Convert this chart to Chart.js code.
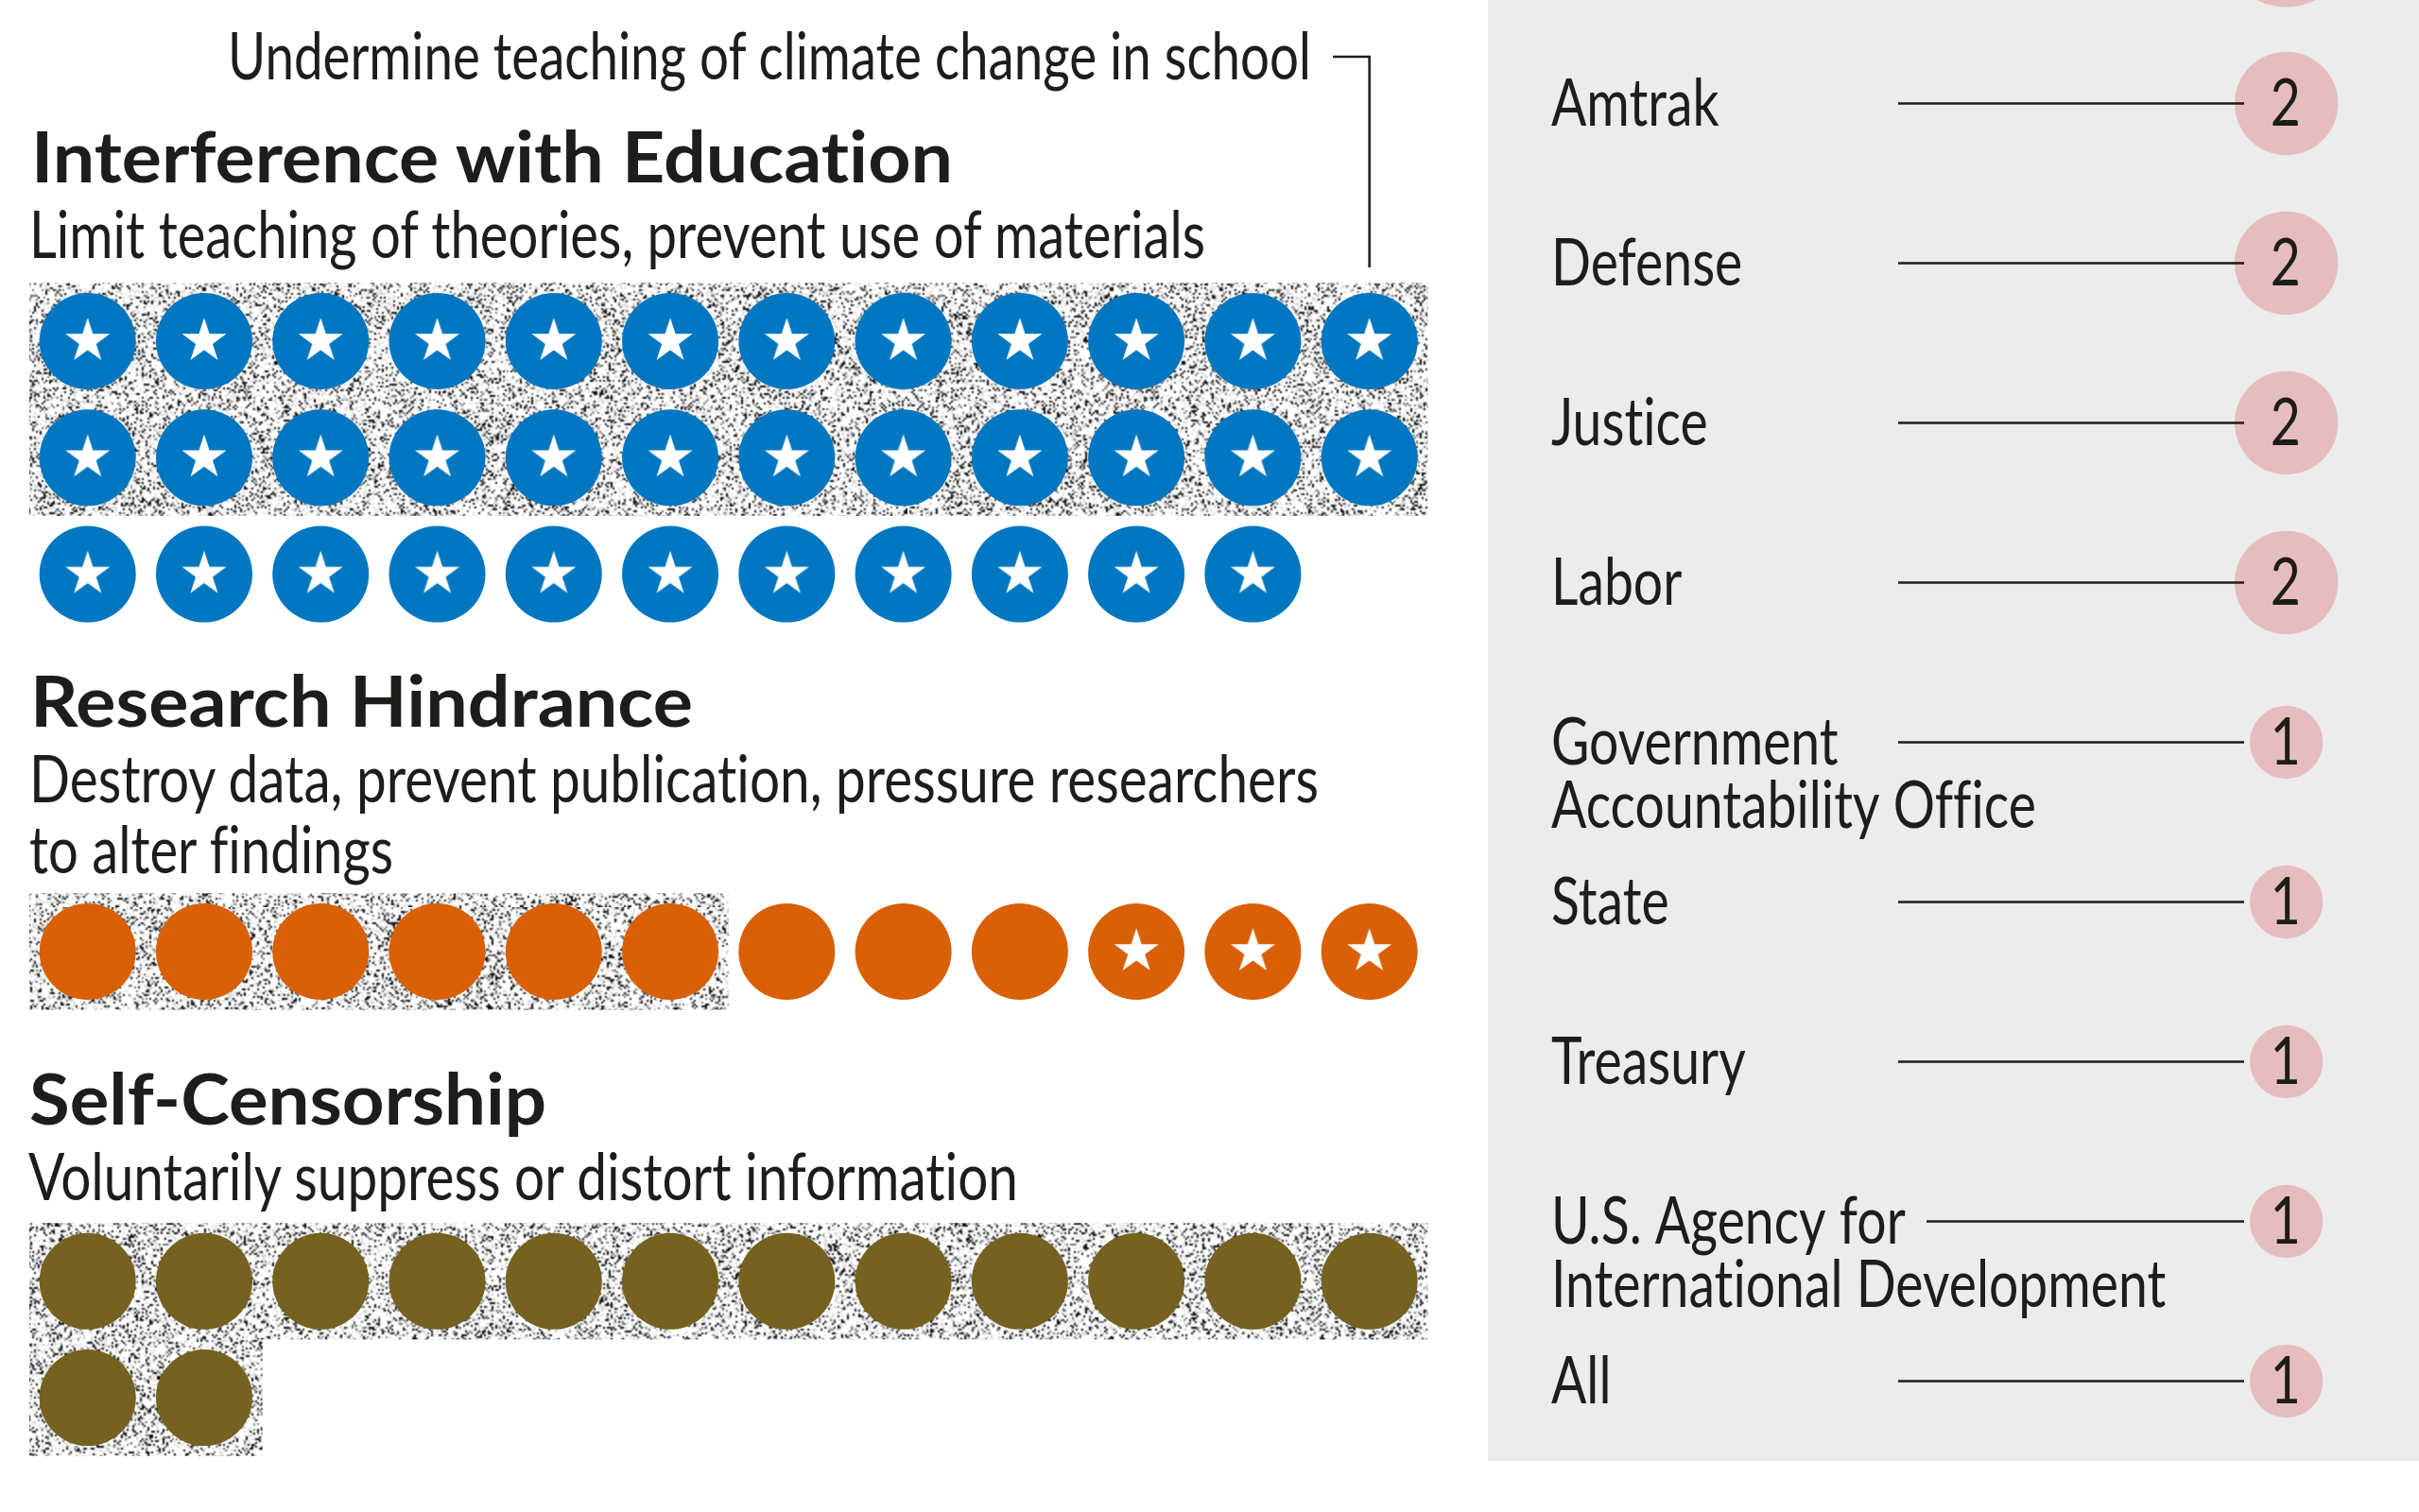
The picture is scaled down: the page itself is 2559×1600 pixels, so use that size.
<!DOCTYPE html>
<html>
<head>
<meta charset="utf-8">
<title>Interference with science</title>
<script src="https://cdn.jsdelivr.net/npm/chart.js@4"></script>
<style>
    html, body { margin: 0; background: #fff; }
    #page { position: relative; width: 2559px; height: 1600px; overflow: hidden; background: #fff; }
    #dots { position: absolute; left: 0; top: 0; }
    #panel { position: absolute; left: 1574px; top: 0; width: 985px; height: 1546px; overflow: hidden; background: #ececec; }
    #agencies { position: absolute; left: 0; top: -144px; }
    .txt {
        position: absolute;
        left: 0;
        top: 0;
        margin: 0;
        line-height: 1;
        white-space: nowrap;
        color: #1d1d1b;
        font-family: Lato, sans-serif;
        font-variant-ligatures: none;
        transform-origin: 0 0;
    }
    .head { font-size: 74px; font-weight: 700; }
    .sub { font-size: 70px; font-weight: 400; }
</style>
</head>
<body>
<div id="page">
    <canvas id="dots" width="1574" height="1600"></canvas>
    <div id="panel"><canvas id="agencies" width="985" height="1690"></canvas></div>
</div>
<script>
const categories = ['Interference with Education', 'Research Hindrance', 'Self-Censorship'];
const descriptions = [
    ['Limit teaching of theories, prevent use of materials'],
    ['Destroy data, prevent publication, pressure researchers', 'to alter findings'],
    ['Voluntarily suppress or distort information'],
];
const calloutText = 'Undermine teaching of climate change in school';
const actionCounts = [35, 12, 14];
const speckledCounts = [24, 6, 14];
const starredCounts = [35, 3, 0];
const categoryColors = ['#0277c1', '#d96006', '#756120'];

// first entry is the row cropped off the top of the panel
const agencyLabels = [
    '',
    'Amtrak',
    'Defense',
    'Justice',
    'Labor',
    ['Government', 'Accountability Office'],
    'State',
    'Treasury',
    ['U.S. Agency for', 'International Development'],
    'All',
];
const agencyCounts = [3, 2, 2, 2, 2, 1, 1, 1, 1, 1];

// layout, in page pixels
const PER_ROW = 12;
const CELL = 123.27;
const FIRST_COL_X = 92.7;
const FIRST_ROW_Y = 361;
const GROUP_ROW = [0, 5.24, 8.07];
const DOT_RADIUS = 51;
const STAR_RADIUS = 24.7;
const CALLOUT_LEFT = 1410;
const CALLOUT_TOP = 60;
const CALLOUT_BOTTOM = 283;
const BUBBLE_X = 844.7;
const BUBBLE_UNIT = 38.7;
const LEADER_START = 434;
const LEADER_START_WRAPPED = 464;
const LEADER_END = 800;
const LABEL_X = 67;
const INK = '#1d1d1b';
const LABEL_FONT = '400 70px Lato, sans-serif';
const LABEL_SQUEEZE = 0.79;
const LABEL_LINE = 67;

// [text, left, baseline, width]
const textLayout = [
    [calloutText, 'sub', 241, 83, 1146],
    [categories[0], 'head', 33, 192, 975],
    [descriptions[0][0], 'sub', 31, 272, 1244],
    [categories[1], 'head', 32, 768, 701],
    [descriptions[1][0], 'sub', 31, 848, 1364],
    [descriptions[1][1], 'sub', 31, 923, 385],
    [categories[2], 'head', 31, 1189, 547],
    [descriptions[2][0], 'sub', 30, 1269, 1047],
];

function placeText() {
    const page = document.getElementById('page');
    textLayout.forEach(([text, kind, left, baseline, width]) => {
        const node = document.createElement('div');
        node.className = `txt ${kind}`;
        node.textContent = text;
        page.appendChild(node);
        const size = kind === 'head' ? 74 : 70;
        const squeeze = width / node.getBoundingClientRect().width;
        // Lato's baseline sits near 0.87 of a 1em line box
        node.style.transform = `translate(${left}px, ${baseline - size * 0.87}px) scaleX(${squeeze})`;
    });
}

function makeSpeckle() {
    const cells = document.createElement('canvas');
    cells.width = 480;
    cells.height = 480;
    const cellCtx = cells.getContext('2d');
    const image = cellCtx.createImageData(480, 480);
    let seed = 20240611;
    for (let i = 0; i < image.data.length; i += 4) {
        seed = (seed * 1664525 + 1013904223) % 4294967296;
        const r = seed / 4294967296;
        let shade = 255;
        if (r < 0.12) shade = 10;
        else if (r < 0.2) shade = 110;
        else if (r < 0.34) shade = 215;
        image.data[i] = shade;
        image.data[i + 1] = shade;
        image.data[i + 2] = shade;
        image.data[i + 3] = 255;
    }
    cellCtx.putImageData(image, 0, 0);

    const big = document.createElement('canvas');
    big.width = 960;
    big.height = 960;
    const bigCtx = big.getContext('2d');
    bigCtx.imageSmoothingEnabled = true;
    bigCtx.drawImage(cells, 0, 0, 960, 960);
    return big;
}

function makeStar() {
    const size = Math.ceil(STAR_RADIUS * 2) + 4;
    const star = document.createElement('canvas');
    star.width = size;
    star.height = size;
    const ctx = star.getContext('2d');
    ctx.fillStyle = '#fff';
    ctx.beginPath();
    for (let i = 0; i < 10; i += 1) {
        const r = i % 2 ? STAR_RADIUS * 0.382 : STAR_RADIUS;
        const a = -Math.PI / 2 + i * Math.PI / 5;
        ctx.lineTo(size / 2 + r * Math.cos(a), size / 2 + r * Math.sin(a));
    }
    ctx.closePath();
    ctx.fill();
    return star;
}

function cellOf(groupIndex, i) {
    return { x: i % PER_ROW, y: GROUP_ROW[groupIndex] + Math.floor(i / PER_ROW) };
}

function dotsOf(groupIndex) {
    return Array.from({ length: actionCounts[groupIndex] }, (_, i) => cellOf(groupIndex, i));
}

function starsOf(groupIndex) {
    return dotsOf(groupIndex).slice(actionCounts[groupIndex] - starredCounts[groupIndex]);
}

const speckle = makeSpeckle();

const speckledCells = {
    id: 'speckledCells',
    beforeDatasetsDraw(chart) {
        const { ctx, scales: { x, y } } = chart;
        ctx.save();
        ctx.fillStyle = ctx.createPattern(speckle, 'repeat');
        speckledCounts.forEach((count, groupIndex) => {
            for (let start = 0; start < count; start += PER_ROW) {
                const inRow = Math.min(count - start, PER_ROW);
                const row = cellOf(groupIndex, start).y;
                const left = x.getPixelForValue(-0.5);
                const top = y.getPixelForValue(row - 0.5);
                ctx.fillRect(left, top, x.getPixelForValue(inRow - 0.5) - left, y.getPixelForValue(row + 0.5) - top);
            }
        });
        ctx.restore();
    },
};

const agencyText = {
    id: 'agencyText',
    afterDatasetsDraw(chart) {
        const { ctx, scales: { x, y } } = chart;
        ctx.save();
        ctx.fillStyle = INK;
        ctx.font = LABEL_FONT;
        ctx.letterSpacing = '0.01px';
        ctx.textBaseline = 'alphabetic';
        agencyLabels.forEach((label, i) => {
            const rowY = y.getPixelForValue(i);
            [].concat(label).forEach((line, lineIndex) => {
                ctx.save();
                ctx.translate(LABEL_X, rowY + 23.5 + lineIndex * LABEL_LINE);
                ctx.scale(LABEL_SQUEEZE, 1);
                ctx.textAlign = 'left';
                ctx.fillText(line, 0, 0);
                ctx.restore();
            });
            ctx.save();
            ctx.translate(x.getPixelForValue(BUBBLE_X) - 1, rowY + 23.5);
            ctx.scale(LABEL_SQUEEZE, 1);
            ctx.textAlign = 'center';
            ctx.fillText(String(agencyCounts[i]), 0, 0);
            ctx.restore();
        });
        ctx.restore();
    },
};

placeText();

const dotDatasets = categories.map((name, groupIndex) => ({
    label: name,
    data: dotsOf(groupIndex),
    backgroundColor: categoryColors[groupIndex],
    borderWidth: 0,
    pointRadius: DOT_RADIUS,
    order: 2,
}));

const starDataset = {
    label: 'Starred',
    data: categories.flatMap((_, groupIndex) => starsOf(groupIndex)),
    pointStyle: makeStar(),
    order: 1,
};

const calloutDataset = {
    label: 'Callout',
    data: [
        { x: (CALLOUT_LEFT - FIRST_COL_X) / CELL, y: (CALLOUT_TOP - FIRST_ROW_Y) / CELL },
        { x: PER_ROW - 1, y: (CALLOUT_TOP - FIRST_ROW_Y) / CELL },
        { x: PER_ROW - 1, y: (CALLOUT_BOTTOM - FIRST_ROW_Y) / CELL },
    ],
    showLine: true,
    borderColor: INK,
    borderWidth: 2.5,
    pointRadius: 0,
    order: 0,
};

new Chart(document.getElementById('dots'), {
    type: 'scatter',
    data: { datasets: [...dotDatasets, starDataset, calloutDataset] },
    plugins: [speckledCells],
    options: {
        responsive: false,
        devicePixelRatio: 1,
        animation: false,
        events: [],
        layout: { padding: 0, autoPadding: false },
        plugins: { legend: { display: false }, tooltip: { enabled: false } },
        scales: {
            x: { display: false, min: -FIRST_COL_X / CELL, max: (1574 - FIRST_COL_X) / CELL },
            y: { display: false, reverse: true, min: -FIRST_ROW_Y / CELL, max: (1600 - FIRST_ROW_Y) / CELL },
        },
    },
});

const leaderDatasets = agencyCounts.map((_, i) => ({
    label: `Leader ${i}`,
    parsing: false,
    data: [
        { x: i === 8 ? LEADER_START_WRAPPED : LEADER_START, y: i },
        { x: LEADER_END, y: i },
    ],
    showLine: true,
    borderColor: INK,
    borderWidth: 2.5,
    pointRadius: 0,
    order: 1,
}));

new Chart(document.getElementById('agencies'), {
    type: 'scatter',
    data: {
        labels: agencyLabels,
        datasets: [
            ...leaderDatasets,
            {
                label: 'Actions',
                parsing: false,
                data: agencyCounts.map((_, i) => ({ x: BUBBLE_X, y: i })),
                backgroundColor: '#e6bdbf',
                borderWidth: 0,
                pointRadius: (item) => BUBBLE_UNIT * Math.sqrt(agencyCounts[item.dataIndex]),
                order: 2,
            },
        ],
    },
    plugins: [agencyText],
    options: {
        responsive: false,
        devicePixelRatio: 1,
        animation: false,
        events: [],
        layout: { padding: 0, autoPadding: false },
        plugins: { legend: { display: false }, tooltip: { enabled: false } },
        scales: {
            x: { display: false, min: 0, max: 985 },
            y: { type: 'category', display: false, offset: true },
        },
    },
});
</script>
</body>
</html>
